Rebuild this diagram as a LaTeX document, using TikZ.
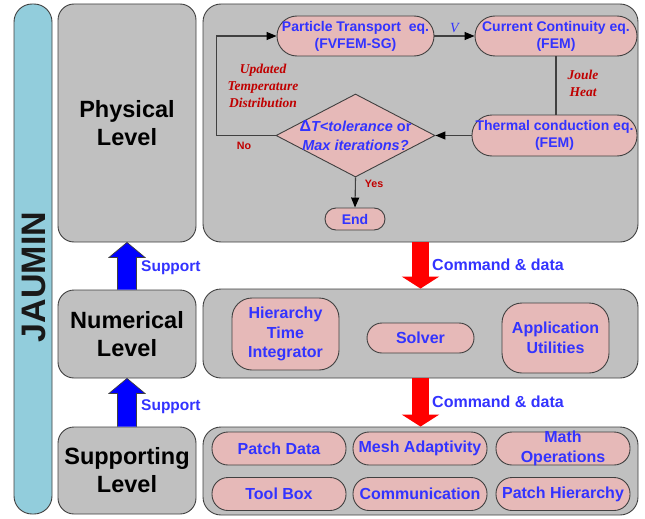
\documentclass[tikz,border=0pt]{standalone}
\usepackage{fontspec}
\setmainfont{Liberation Sans}
\newfontfamily\serifface{Liberation Serif}
\usetikzlibrary{shapes.geometric,arrows.meta,calc}
\definecolor{greybox}{HTML}{C0C0C0}
\definecolor{pinkbox}{HTML}{E6B9B8}
\definecolor{jaublue}{HTML}{92CDDC}
\definecolor{txtblue}{HTML}{3333FF}
\definecolor{txtred}{HTML}{C00000}
\definecolor{edgegrey}{HTML}{404040}
\tikzset{
  levelbox/.style={draw=edgegrey, line width=0.9pt, fill=greybox, rounded corners=16pt, inner sep=0pt,
    align=center, font=\bfseries\fontsize{23.5}{28}\selectfont, text=black},
  panel/.style={draw=edgegrey, line width=0.9pt, fill=greybox, rounded corners=18pt, inner sep=0pt},
  flowbox/.style={draw=edgegrey, line width=0.9pt, fill=pinkbox, inner sep=0pt, align=center,
    font=\bfseries\fontsize{14}{17}\selectfont, text=txtblue},
  modbox/.style={draw=edgegrey, line width=0.9pt, fill=pinkbox, inner sep=0pt, align=center,
    font=\bfseries\fontsize{16}{19.5}\selectfont, text=txtblue},
  flowline/.style={draw=edgegrey, line width=1.1pt},
  flowarrow/.style={flowline, -{Triangle[width=8pt,length=10pt,color=black]}},
  supportarrow/.style={fill=blue, draw=black!75, line width=0.7pt, line join=miter},
  cmdarrow/.style={draw=red, line width=17pt, -{Triangle[width=37pt,length=12pt]}},
  bluelabel/.style={text=txtblue, font=\bfseries\fontsize{15.5}{18}\selectfont, inner sep=0pt, anchor=west},
  cmdlabel/.style={text=txtblue, font=\bfseries\fontsize{16}{19}\selectfont, inner sep=0pt, anchor=west},
  redlabel/.style={text=txtred, font=\bfseries\fontsize{10.7}{13}\selectfont, inner sep=0pt},
  redserif/.style={text=txtred, font=\serifface\bfseries\itshape\fontsize{13.5}{17}\selectfont, inner sep=0pt, align=center},
}
\begin{document}
\begin{tikzpicture}[x=1pt,y=-1pt]
\useasboundingbox (0,0) rectangle (645,519);

% JAUMIN bar
\node[draw=edgegrey, line width=0.9pt, fill=jaublue, rounded corners=18pt, minimum width=38pt, minimum height=510pt, inner sep=0pt] (jaumin) at (33,259) {};
\node[rotate=90, font=\bfseries\fontsize{34}{40}\selectfont, text=black!90, inner sep=0pt] (jaumintext) at (33.5,277) {JAUMIN};

% Level boxes (left)
\node[levelbox, minimum width=138pt, minimum height=238pt] (physL) at (127,123) {Physical\\Level};
\node[levelbox, minimum width=138pt, minimum height=88pt] (numL) at (127,334) {Numerical\\Level};
\node[levelbox, minimum width=138pt, minimum height=87pt] (supL) at (127,470.5) {Supporting\\Level};

% Panels (right)
\node[panel, minimum width=435pt, minimum height=238pt] (physR) at (420.5,123) {};
\node[panel, minimum width=435pt, minimum height=89pt] (numR) at (420.5,333.5) {};
\node[panel, minimum width=435pt, minimum height=88pt] (supR) at (420.5,471) {};

% Support arrows (outlined block arrows)
\draw[supportarrow] ($(numL.north)+(-9.5,0)$) -- ($(physL.south)+(-9.5,15)$) -- ($(physL.south)+(-18,15)$)
  -- (physL.south) -- ($(physL.south)+(18,15)$) -- ($(physL.south)+(9.5,15)$) -- ($(numL.north)+(9.5,0)$);
\draw[supportarrow] ($(supL.north)+(-9.5,0)$) -- ($(numL.south)+(-9.5,15)$) -- ($(numL.south)+(-18,15)$)
  -- (numL.south) -- ($(numL.south)+(18,15)$) -- ($(numL.south)+(9.5,15)$) -- ($(supL.north)+(9.5,0)$);
\node[bluelabel] (sup1) at (141,268) {Support};
\node[bluelabel] (sup2) at (141,407) {Support};

% Command arrows
\draw[cmdarrow] (physR.south) -- (numR.north);
\draw[cmdarrow] (numR.south) -- (supR.north);
\node[cmdlabel] (cmd1) at (432,265) {Command \& data};
\node[cmdlabel] (cmd2) at (432,402) {Command \& data};

% Flowchart
\node[flowbox, rounded corners=20pt, minimum width=157pt, minimum height=40pt] (pt) at (355.5,36) {Particle Transport\ \ eq.\\(FVFEM-SG)};
\node[flowbox, rounded corners=20pt, minimum width=162pt, minimum height=40pt] (cc) at (556,36) {Current Continuity eq.\\(FEM)};
\node[flowbox, rounded corners=20pt, minimum width=165pt, minimum height=41pt] (tc) at (554.5,135.5) {Thermal conduction eq.\\(FEM)};
\node[diamond, draw=edgegrey, line width=0.9pt, fill=pinkbox, inner sep=0pt, minimum width=159pt, minimum height=83pt,
  label={[flowbox, draw=none, fill=none, font=\bfseries\fontsize{14.5}{19}\selectfont]center:{{\fontsize{16}{19}\selectfont Δ}\textit{T<tolerance} or\\\textit{Max iterations?}}}] (dia) at (355.5,135.5) {};
\node[flowbox, rounded corners=11pt, minimum width=60pt, minimum height=22pt] (end) at (355,219) {End};

\draw[flowarrow] (pt.east) -- node[above=-1pt, text=txtblue, font=\serifface\itshape\fontsize{14}{16}\selectfont] {V} (cc.west);
\draw[flowline] (cc.south) -- (cc.south |- tc.north);
\draw[flowarrow] (tc.west) -- (dia.east);
\draw[flowarrow] (dia.west) -- ++(-59,0) |- (pt.west);
\draw[flowarrow] (dia.south) -- (end.north);

\node[redlabel] (no) at (244,146) {No};
\node[redlabel] (yes) at (374,184) {Yes};
\node[redserif] (upd) at (263,86) {Updated\\Temperature\\Distribution};
\node[redserif] (joule) at (583,83) {Joule\\Heat};

% Numerical modules
\node[modbox, rounded corners=20pt, minimum width=107pt, minimum height=72pt] (hti) at (285.5,334) {Hierarchy\\Time\\Integrator};
\node[modbox, rounded corners=15pt, minimum width=107pt, minimum height=30pt] (solver) at (420.5,338) {Solver};
\node[modbox, rounded corners=20pt, minimum width=107pt, minimum height=70pt] (apu) at (555.5,338) {Application\\Utilities};

% Supporting modules
\node[modbox, rounded corners=16pt, minimum width=134pt, minimum height=33pt] (pd) at (279,448.5) {Patch Data};
\node[modbox, rounded corners=16pt, minimum width=134pt, minimum height=33pt] (ma) at (420,448.5) {Mesh Adaptivity};
\node[modbox, rounded corners=16pt, minimum width=134pt, minimum height=33pt, inner ysep=-2pt] (mo) at (563,448.5) {Math\\Operations};
\node[modbox, rounded corners=16pt, minimum width=134pt, minimum height=33pt] (tb) at (279,494) {Tool Box};
\node[modbox, rounded corners=16pt, minimum width=134pt, minimum height=33pt] (cm) at (420,494) {Communication};
\node[modbox, rounded corners=16pt, minimum width=134pt, minimum height=33pt] (ph) at (563,494) {Patch Hierarchy};
\end{tikzpicture}
\end{document}
